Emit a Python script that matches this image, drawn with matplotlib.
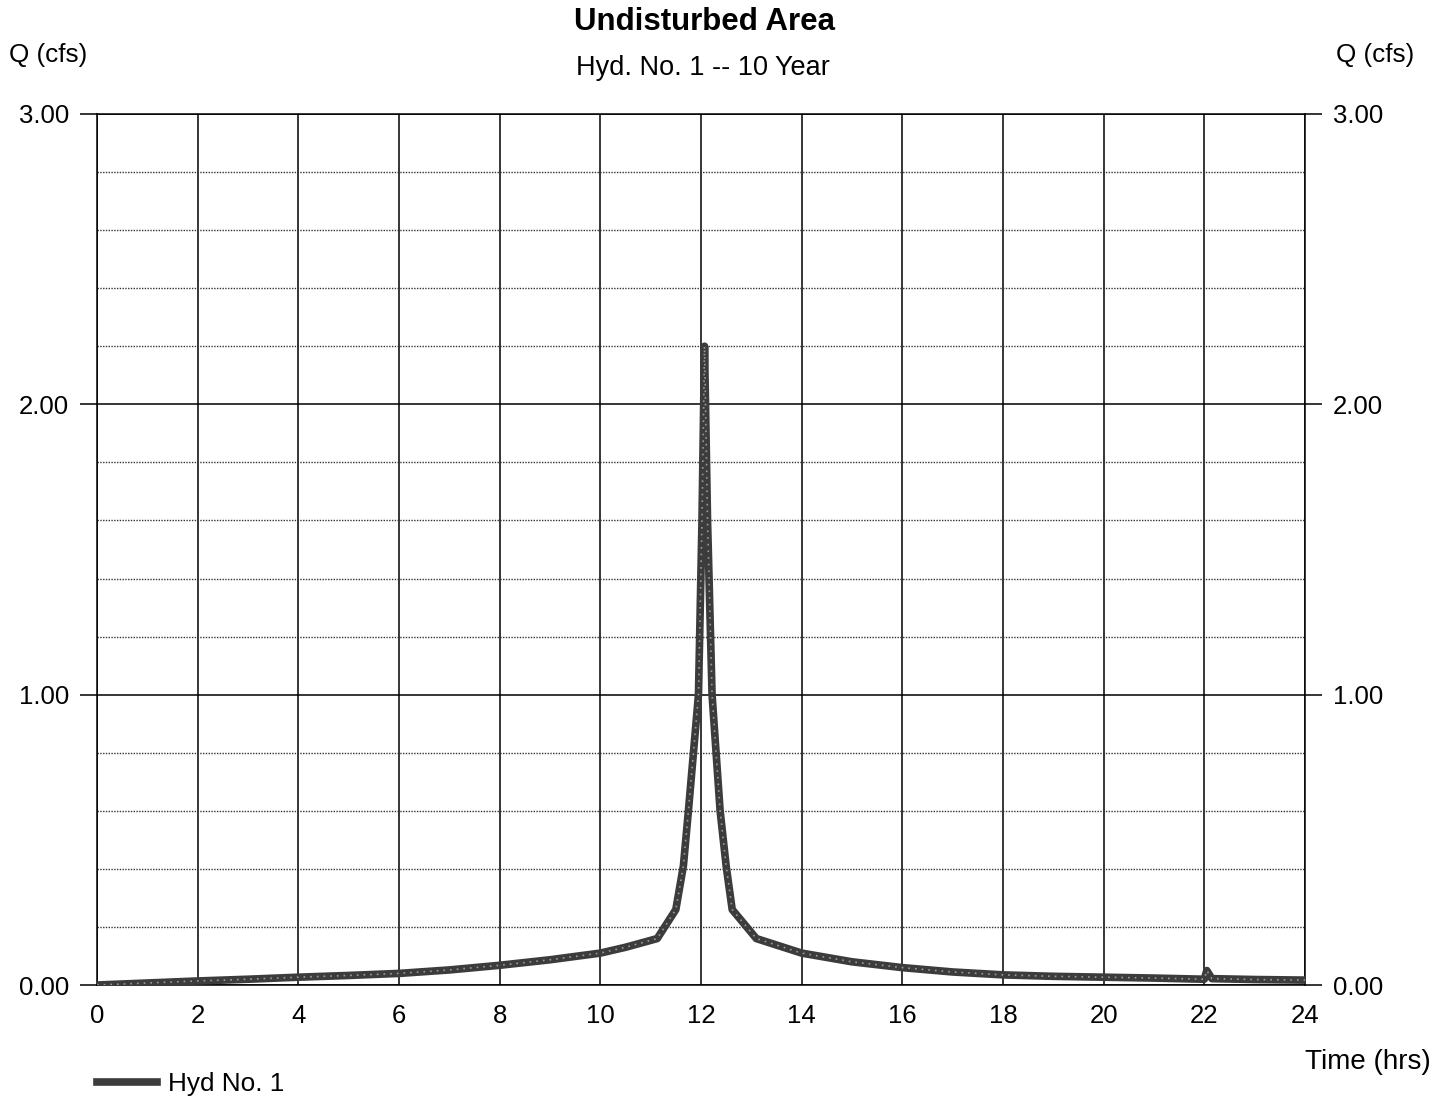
'''
Hydrograph for the undisturbed area, 10 year storm.
'''

import matplotlib
matplotlib.use('Agg')
import matplotlib.pyplot as plt
import numpy as np

# hydrograph (hours, cfs)
time_hrs = [0, 1, 2, 3, 4, 5, 6, 7, 8, 9, 10, 10.5, 11.13, 11.5, 11.65,
            11.75, 11.85, 11.95, 12.02, 12.07, 12.13, 12.22, 12.30, 12.38,
            12.50, 12.62, 13.1, 14, 15, 16, 17, 18, 19, 20, 21, 22, 22.05,
            22.15, 23, 24]
flow_cfs = [0.0, 0.007, 0.014, 0.02, 0.027, 0.033, 0.04, 0.052, 0.068,
            0.087, 0.11, 0.13, 0.16, 0.26, 0.41, 0.60, 0.80, 1.00, 1.60,
            2.20, 1.60, 1.00, 0.80, 0.60, 0.41, 0.26, 0.16, 0.11, 0.08,
            0.06, 0.045, 0.035, 0.03, 0.027, 0.024, 0.02, 0.05, 0.022,
            0.019, 0.017]

xticks = np.arange(0, 25, 2)
yticks = [0, 1, 2, 3]
yminor = [0.2, 0.4, 0.6, 0.8, 1.2, 1.4, 1.6, 1.8, 2.2, 2.4, 2.6, 2.8]

plt.rcParams['font.family'] = ['Liberation Sans', 'DejaVu Sans']
fs = 18

fig = plt.figure(figsize=(14.44, 10.99), dpi=100)
ax = fig.add_axes([0.0672, 0.1037, 0.8365, 0.7926])

# grid
for x in xticks:
    ax.axvline(x, color='k', lw=1.1, zorder=1)
for y in yticks:
    ax.axhline(y, color='k', lw=1.1, zorder=1)
for y in yminor:
    ax.axhline(y, color='#333333', lw=1.0, ls=(0, (1, 1)), zorder=1)

# hydrograph - thick textured grey line
ax.plot(time_hrs, flow_cfs, color='#3c3c3c', lw=5.5, solid_joinstyle='round',
        zorder=3, label='Hyd No. 1')
ax.plot(time_hrs, flow_cfs, color='#9a9a9a', lw=1.2, ls=(0, (1, 3)),
        zorder=4)

ax.set_xlim(0, 24)
ax.set_ylim(0, 3)
ax.set_xticks(xticks)
ax.set_yticks(yticks)
ax.set_yticklabels(['%.2f' % v for v in yticks])
ax.tick_params(axis='y', which='both', right=True, labelright=True,
               length=12, width=1.1, direction='out', labelsize=fs + 0.5,
               pad=8)
ax.tick_params(axis='x', length=0, labelsize=fs + 0.5, pad=14)
for s in ax.spines.values():
    s.set_linewidth(1.1)

# titles and axis labels
fig.text(0.488, 0.980, 'Undisturbed Area', ha='center', va='center',
         fontsize=22.5, fontweight='bold')
fig.text(0.487, 0.938, 'Hyd. No. 1 -- 10 Year', ha='center', va='center',
         fontsize=19.5)
fig.text(0.033, 0.950, 'Q (cfs)', ha='center', va='center', fontsize=18.8)
fig.text(0.952, 0.950, 'Q (cfs)', ha='center', va='center', fontsize=18.8)
fig.text(0.947, 0.034, 'Time (hrs)', ha='center', va='center', fontsize=20)

leg = fig.legend(loc='lower left', bbox_to_anchor=(0.051, -0.019),
                 frameon=False, fontsize=18.8, handlelength=2.3,
                 handletextpad=0.4)

fig.savefig('out.png', dpi=100)
